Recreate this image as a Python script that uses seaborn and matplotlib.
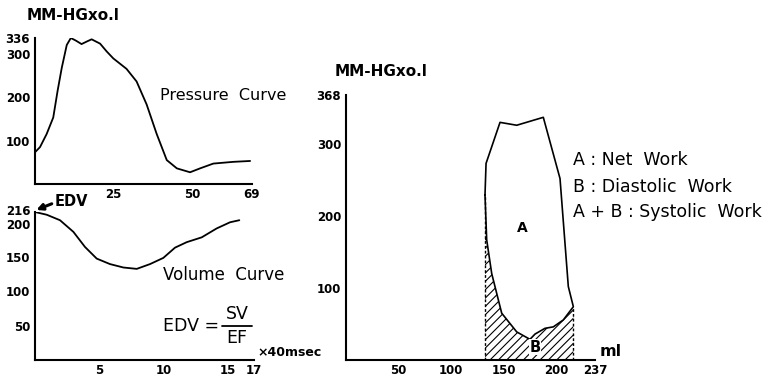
import numpy as np
import pandas as pd
import matplotlib
matplotlib.use("Agg")
import matplotlib.pyplot as plt
import matplotlib.transforms as mtransforms
import seaborn as sns
from matplotlib.ticker import AutoMinorLocator

sns.set_theme(style="white")
plt.rcParams['font.family'] = ['DejaVu Sans']
plt.rcParams['hatch.linewidth'] = 0.8
plt.rcParams['text.color'] = 'black'
plt.rcParams['xtick.color'] = 'black'
plt.rcParams['ytick.color'] = 'black'

# ---- data ----
press_t = [0, 1.6, 3.7, 5.8, 7.2, 8.5, 10.1, 11.4, 13.0, 14.8, 16.5, 18.0, 20.7, 22.8, 24.9, 27.0, 29.1, 32.3, 35.5, 38.7, 41.9, 45.1, 49.3, 52.5, 56.7, 63.1, 68.4]
press_p = [73, 85, 115, 153, 215, 267, 320, 336, 330, 322, 328, 333, 323, 305, 289, 277, 265, 236, 183, 115, 55, 36, 27, 36, 47, 51, 53]

vol_t = [0, 0.91, 1.94, 2.98, 3.88, 4.79, 5.82, 6.86, 7.9, 8.93, 9.96, 10.87, 11.78, 12.94, 14.1, 15.14, 15.86]
vol_v = [216, 212, 204, 187, 165, 148, 140, 135, 133, 140, 149, 164, 172, 179, 192, 201, 204]

# PV loop: systolic (upper) branch then diastolic (lower) branch, closed
loop_v = [132.3, 133.3, 146.6, 162.5, 187.8, 203.7, 211.6, 216.4,
          206.8, 197.3, 189.4, 179.9, 175.1, 162.5, 148.2, 138.7, 133.9, 132.3]
loop_p = [229, 273, 330, 326, 337, 252, 102, 74,
          55.6, 46, 44, 36, 28.7, 39, 65, 120, 167, 229]
# lower (diastolic) branch for hatched area, ascending volume
low_v = [132.3, 133.9, 138.7, 148.2, 162.5, 175.1, 179.9, 189.4, 197.3, 206.8, 216.4]
low_p = [229, 167, 120, 65, 39, 28.7, 36, 44, 46, 55.6, 74]

press_yticks = [100, 200, 300, 336]
press_xticks = [25, 50, 69]
vol_yticks = [50, 100, 150, 200, 216]
vol_xticks = [5, 10, 15, 17]
pv_yticks = [100, 200, 300, 368]
pv_xticks = [50, 100, 150, 200, 237]

W, H = 770, 376
fig = plt.figure(figsize=(7.7, 3.76), dpi=100)

def px_axes(l, r, b, t):
    return fig.add_axes([l / W, 1 - b / H, (r - l) / W, (b - t) / H])

def ftxt(x, y, s, **kw):
    kw.setdefault('va', 'center')
    kw.setdefault('ha', 'left')
    fig.text(x / W, 1 - y / H, s, **kw)

def style(ax):
    sns.despine(ax=ax)
    for s in ['left', 'bottom']:
        ax.spines[s].set_linewidth(1.5)
        ax.spines[s].set_color('black')
    ax.tick_params(axis='both', which='major', direction='out', length=2.5, width=1.2,
                   colors='black', labelsize=8.5, pad=1)
    ax.tick_params(axis='x', which='major', pad=0.5)
    ax.tick_params(axis='both', which='minor', direction='out', length=1.5, width=0.8, colors='black')
    ax.xaxis.set_minor_locator(AutoMinorLocator(5))
    ax.yaxis.set_minor_locator(AutoMinorLocator(5))
    for lab in ax.get_xticklabels() + ax.get_yticklabels():
        lab.set_fontweight('bold')
    ax.set_xlabel('')
    ax.set_ylabel('')
    ax.grid(False)

# ---- pressure curve ----
ax1 = px_axes(35, 252, 184, 38)
sns.lineplot(x=press_t, y=press_p, ax=ax1, color='black', linewidth=1.3)
ax1.set_xlim(0, 69)
ax1.set_ylim(0, 336)
ax1.set_xticks(press_xticks)
ax1.set_yticks(press_yticks)
style(ax1)

# ---- volume curve ----
ax2 = px_axes(35, 254, 360, 212)
sns.lineplot(x=vol_t, y=vol_v, ax=ax2, color='black', linewidth=1.3)
ax2.set_xlim(0, 17)
ax2.set_ylim(0, 216)
ax2.set_xticks(vol_xticks)
ax2.set_yticks(vol_yticks)
style(ax2)
# nudge the close 216 / 200 labels apart a little
lift = mtransforms.ScaledTranslation(0, 2 / 100, fig.dpi_scale_trans)
drop = mtransforms.ScaledTranslation(0, -1 / 100, fig.dpi_scale_trans)
for lab in ax2.get_yticklabels():
    if lab.get_text() == '216':
        lab.set_transform(lab.get_transform() + lift)
    elif lab.get_text() == '200':
        lab.set_transform(lab.get_transform() + drop)
ax2.annotate('', xy=(0.1, 219), xytext=(1.3, 228), annotation_clip=False,
             arrowprops=dict(arrowstyle='-|>', color='black', lw=2.2, mutation_scale=9,
                             shrinkA=0, shrinkB=0))

# ---- PV loop ----
ax3 = px_axes(346, 595, 360, 95)
ax3.fill_between(low_v, low_p, 0, facecolor='white', edgecolor='black', hatch='////', linewidth=0)
sns.lineplot(x=loop_v, y=loop_p, ax=ax3, color='black', linewidth=1.2, sort=False, estimator=None)
ax3.plot([low_v[0], low_v[0]], [0, low_p[0]], color='black', lw=1.0, ls=(0, (2, 1.5)))
ax3.plot([low_v[-1], low_v[-1]], [0, low_p[-1]], color='black', lw=1.0, ls=(0, (2, 1.5)))
ax3.set_xlim(0, 237)
ax3.set_ylim(0, 368)
ax3.set_xticks(pv_xticks)
ax3.set_yticks(pv_yticks)
style(ax3)
ax3.text(168, 183, 'A', fontsize=10, fontweight='bold', ha='center', va='center')
ax3.text(180, 18, 'B', fontsize=10.5, fontweight='bold', ha='center', va='center',
         bbox=dict(facecolor='white', edgecolor='none', pad=0.5))

# ---- texts ----
ftxt(27, 15, 'MM-HGxo.l', fontsize=11, fontweight='bold')
ftxt(335, 72, 'MM-HGxo.l', fontsize=11, fontweight='bold')
ftxt(160, 96, 'Pressure  Curve', fontsize=11.5)
ftxt(163, 275, 'Volume  Curve', fontsize=12)
ftxt(55, 202, 'EDV', fontsize=10.5, fontweight='bold')
ftxt(163, 326, 'EDV =', fontsize=12.5)
ftxt(237, 314, 'SV', fontsize=12.5, ha='center')
ftxt(237, 338, 'EF', fontsize=12.5, ha='center')
fig.add_artist(plt.Line2D([222 / W, 252 / W], [1 - 325.5 / H, 1 - 325.5 / H], color='black', lw=1.3))
ftxt(257, 353, '×40msec', fontsize=9, fontweight='bold')
ftxt(600, 351, 'ml', fontsize=11.5, fontweight='bold')
ftxt(573, 160, 'A : Net  Work', fontsize=12.5)
ftxt(573, 187, 'B : Diastolic  Work', fontsize=12.5)
ftxt(573, 212, 'A + B : Systolic  Work', fontsize=12.5)

fig.savefig('out.png', dpi=100)
